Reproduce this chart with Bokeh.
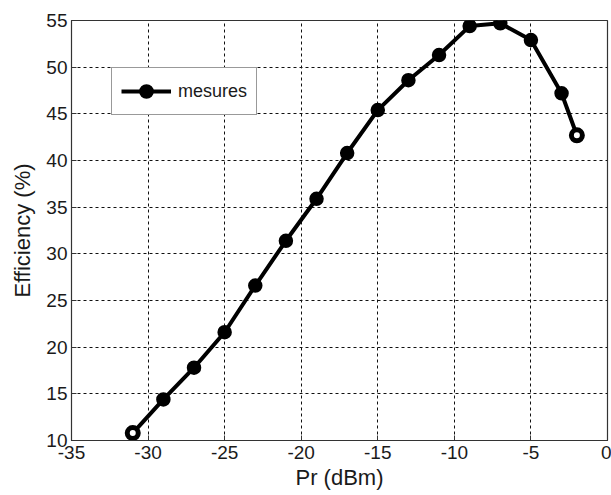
from bokeh.plotting import figure
from bokeh.models import Range1d, FixedTicker, Legend, LegendItem
from bokeh.embed import file_html
from bokeh.resources import INLINE

pr_dbm = [-31, -29, -27, -25, -23, -21, -19, -17, -15, -13, -11, -9, -7, -5, -3, -2]
efficiency = [10.8, 14.4, 17.8, 21.6, 26.6, 31.4, 35.9, 40.8, 45.4, 48.6, 51.3, 54.4, 54.7, 52.9, 47.2, 42.7]
x_ticks = [-35, -30, -25, -20, -15, -10, -5, 0]
y_ticks = [10, 15, 20, 25, 30, 35, 40, 45, 50, 55]

FONT = "Liberation Sans"
INK = "#1a1a1a"

p = figure(width=611, height=495, output_backend="svg", toolbar_location=None,
           x_range=Range1d(-35, 0), y_range=Range1d(10, 55),
           min_border_left=71, min_border_right=4, min_border_top=20, min_border_bottom=55)
p.background_fill_color = "white"
p.border_fill_color = "white"
p.outline_line_color = "#333333"
p.outline_line_width = 1.2

for ax in (p.xaxis[0], p.yaxis[0]):
    ax.axis_line_color = "#333333"
    ax.major_tick_in = 5
    ax.major_tick_out = 0
    ax.major_tick_line_color = "#333333"
    ax.minor_tick_line_color = None
    ax.major_label_text_font = FONT
    ax.major_label_text_font_size = "19px"
    ax.major_label_text_color = INK
    ax.axis_label_text_font = FONT
    ax.axis_label_text_font_size = "22px"
    ax.axis_label_text_font_style = "normal"
    ax.axis_label_text_color = INK

p.xaxis.ticker = FixedTicker(ticks=x_ticks)
p.yaxis.ticker = FixedTicker(ticks=y_ticks)
p.xaxis.major_label_overrides = {t: str(t) for t in x_ticks}
p.xaxis.axis_label = "Pr (dBm)"
p.yaxis.axis_label = "Efficiency (%)"
p.xaxis.major_label_standoff = 5
p.yaxis.major_label_standoff = 4
p.xaxis.axis_label_standoff = 3
p.yaxis.axis_label_standoff = 8

p.xgrid.grid_line_color = "#111111"
p.ygrid.grid_line_color = "#111111"
p.xgrid.grid_line_dash = "3 3"
p.ygrid.grid_line_dash = "3 3"
p.xgrid.grid_line_width = 1
p.ygrid.grid_line_width = 1

n = len(pr_dbm)
fills = ["white"] + ["black"] * (n - 2) + ["white"]
edge_w = [5] + [3.5] * (n - 2) + [5]
ln = p.line(pr_dbm, efficiency, line_color="black", line_width=4)
mk = p.scatter(pr_dbm, efficiency, size=11, fill_color=fills, line_color="black", line_width=edge_w)

legend = Legend(items=[LegendItem(label="mesures", renderers=[ln, mk], index=1)],
                location=(40, 325))
legend.label_text_font = FONT
legend.label_text_font_size = "18px"
legend.label_text_color = INK
legend.glyph_width = 50
legend.glyph_height = 28
legend.padding = 9
legend.margin = 0
legend.spacing = 0
legend.border_line_color = "#333333"
legend.border_line_width = 1
legend.background_fill_alpha = 1
legend.label_standoff = 7
p.add_layout(legend, "center")

open("out.html", "w").write(file_html(p, INLINE))
